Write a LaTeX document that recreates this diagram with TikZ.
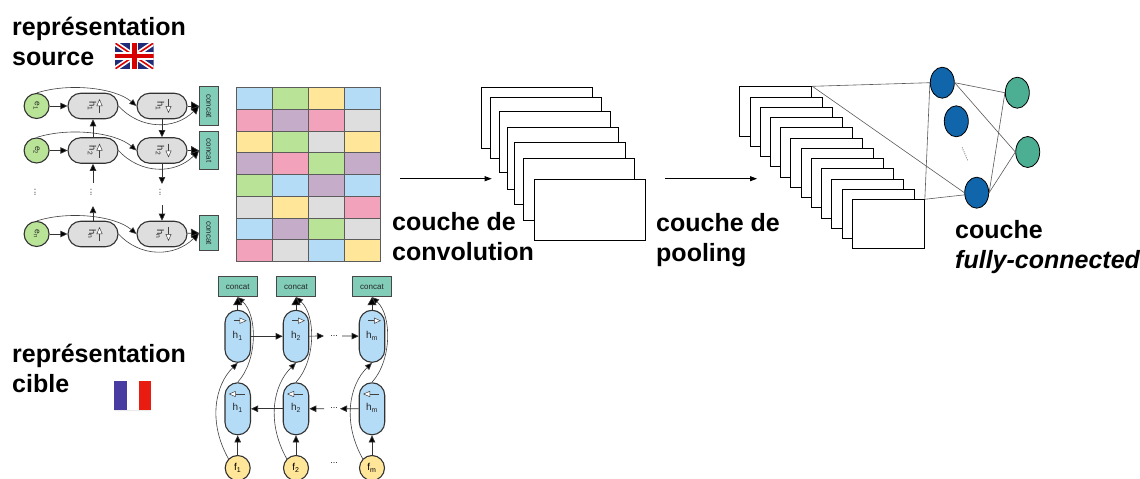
\documentclass[tikz,border=0pt]{standalone}
\usepackage{fontspec}
\setmainfont{Liberation Sans}
\usetikzlibrary{arrows.meta,shapes.geometric}
\definecolor{cblue}{HTML}{B5DCF6}
\definecolor{cgreen}{HTML}{B9E498}
\definecolor{cyellow}{HTML}{FFE699}
\definecolor{cpink}{HTML}{F2A3BB}
\definecolor{cpurple}{HTML}{C5ADC9}
\definecolor{cgray}{HTML}{DEDEDE}
\definecolor{cteal}{HTML}{82CDB8}
\definecolor{dkblue}{HTML}{1065AB}
\definecolor{dkteal}{HTML}{4CAE93}
\definecolor{edge}{HTML}{333333}
\definecolor{ukblue}{HTML}{202C78}
\definecolor{frblue}{HTML}{483CA0}
\definecolor{frred}{HTML}{E81C10}
\newcommand{\fsz}[1]{\fontsize{#1}{#1}\selectfont}
\tikzset{
  x=1pt,y=-1pt,
  bigtext/.style={anchor=base west,inner sep=0pt,font=\fsz{25}\bfseries},
  box/.style={draw=black,line width=1pt,fill=white,anchor=north west,inner sep=0pt,minimum width=#1},
  cell/.style={draw=edge!80,line width=.9pt,minimum width=36pt,minimum height=21.75pt,inner sep=0pt,anchor=north west},
  pillV/.style={draw=edge,line width=1.1pt,fill=#1,inner sep=0pt,minimum width=25.5pt,minimum height=52pt,rounded corners=12.7pt},
  pillH/.style={draw=edge,line width=1.1pt,fill=#1,inner sep=0pt,minimum width=50pt,minimum height=25.5pt,rounded corners=12.7pt},
  roundn/.style={draw=edge,line width=1.1pt,fill=#1,circle,inner sep=0pt,minimum size=25pt,font=\fsz{10}},
  concatbox/.style={draw=edge!90,line width=.9pt,fill=cteal,inner sep=0pt,font=\fsz{8},text=black!85},
  lab/.style={inner sep=0pt,font=\fsz{9.5},text=black!85},
  con/.style={draw=black!80,line width=.7pt,-{Triangle[length=7pt,width=6.5pt,fill=black]}},
  conbig/.style={draw=black!80,line width=.7pt,-{Triangle[length=8pt,width=9pt,fill=black]}},
  curvecon/.style={draw=black!75,line width=.6pt,-{Triangle[length=7pt,width=6pt,fill=black]}},
  plainline/.style={draw=black!65,line width=.6pt},
  icon/.style={draw=black!75,line width=.5pt,-{Triangle[open,fill=white,length=7pt,width=6pt]}},
  bigarrow/.style={draw=black,line width=.8pt,-{Triangle[length=7pt,width=5pt,fill=black]}},
  neuron/.style={draw=black,line width=.8pt,ellipse,minimum width=24pt,minimum height=31pt,inner sep=0pt,fill=#1},
  dotsn/.style={inner sep=0pt,font=\fsz{9},text=black!90},
}
\begin{document}
\begin{tikzpicture}
\clip (0,0) rectangle (1140,479);
% titles
\node[bigtext] (t1a) at (12,35) {représentation};
\node[bigtext] (t1b) at (12,65) {source};
\node[bigtext] (t2a) at (12,362) {représentation};
\node[bigtext] (t2b) at (12,392) {cible};
\node[bigtext] (t3a) at (392,230) {couche de};
\node[bigtext] (t3b) at (392,260) {convolution};
\node[bigtext] (t4a) at (656,231) {couche de};
\node[bigtext] (t4b) at (656,261) {pooling};
\node[bigtext] (t5a) at (955,238) {couche};
\node[bigtext,font=\fsz{25}\bfseries\itshape] (t5b) at (955,268) {fully-connected};
% UK flag
\begin{scope}
\clip[rounded corners=1pt] (115,43) rectangle (153.5,69);
\fill[fill=ukblue] (115,43) rectangle (153.5,69);
\draw[white,line width=5pt] (115,43) -- (153.5,69) (115,69) -- (153.5,43);
\draw[red!85!black,line width=1.6pt] (115,43) -- (153.5,69) (115,69) -- (153.5,43);
\draw[white,line width=8pt] (134.2,43) -- (134.2,69) (115,56) -- (153.5,56);
\draw[red!85!black,line width=4.6pt] (134.2,43) -- (134.2,69) (115,56) -- (153.5,56);
\end{scope}
% French flag
\fill[fill=black!8,rounded corners=1pt] (114,381) rectangle (151,411);
\fill[fill=frblue] (114,381) rectangle (126.5,410);
\fill[fill=white] (126.5,381) rectangle (139,410);
\fill[fill=frred] (139,381) rectangle (151,410);
% colour matrix
\foreach \colr [count=\i from 0] in {cblue,cgreen,cyellow,cblue,
  cpink,cpurple,cpink,cgray,
  cyellow,cgreen,cgray,cyellow,
  cpurple,cpink,cgreen,cpurple,
  cgreen,cblue,cpurple,cblue,
  cgray,cyellow,cgray,cpink,
  cblue,cpurple,cgreen,cgray,
  cpink,cgray,cblue,cyellow}{
  \pgfmathtruncatemacro{\cx}{mod(\i,4)}
  \pgfmathtruncatemacro{\cy}{div(\i,4)}
  \node[cell,fill=\colr] (m\i) at ({236+36*\cx},{87+21.75*\cy}) {};
}
% source encoder
\foreach \r/\y/\sub in {1/106/1,2/150.5/2,n/234/n}{
  \node[roundn=cgreen] (e\r) at (36.6,\y) {};
  \node[lab,font=\fsz{8.5},rotate=-90] (el\r) at (36.6,\y) {e\textsubscript{\sub}};
  \node[pillH=cgray] (hf\r) at (93,\y) {};
  \node[pillH=cgray] (hb\r) at (162,\y) {};
  \node[lab,rotate=-90] (hfl\r) at (92,\y) {h\textsubscript{\sub}};
  \node[lab,rotate=-90] (hbl\r) at (160,\y) {h\textsubscript{\sub}};
  \coordinate (ifa\r) at (99.5,\y+7);
  \coordinate (ifb\r) at (99.5,\y-7);
  \coordinate (iba\r) at (168.5,\y-7);
  \coordinate (ibb\r) at (168.5,\y+7);
  \draw[icon] (ifa\r) -- (ifb\r);
  \draw[icon] (iba\r) -- (ibb\r);
  \draw[con] (e\r) -- (hf\r);
  \draw[curvecon] (e\r.north) .. controls +(33,-10.5) and +(-21,-18) .. (hb\r.west);
}
\node[concatbox,minimum width=19pt,minimum height=38.5pt] (c1) at (209,106) {\rotatebox{-90}{concat}};
\node[concatbox,minimum width=19pt,minimum height=38.5pt] (c2) at (209,150.5) {\rotatebox{-90}{concat}};
\node[concatbox,minimum width=19pt,minimum height=34.5pt] (cn) at (209,233) {\rotatebox{-90}{concat}};
\foreach \r in {1,2,n}{
  \draw[conbig] (hb\r) -- (c\r.west);
  \draw[curvecon,-{Triangle[length=8pt,width=8pt,fill=black]}] (hf\r.east) .. controls +(22,24) and +(-24,24) .. (c\r.west);
}
\draw[con] (hf2) -- (hf1);
\draw[con] (hb1) -- (hb2);
\coordinate (ua) at (93,183);
\coordinate (ub) at (93,206);
\coordinate (da) at (162,184);
\coordinate (db) at (162,205);
\draw[con] (ua) -- (hf2.south);
\draw[con] (hfn.north) -- (ub);
\draw[con] (hb2.south) -- (da);
\draw[con] (db) -- (hbn.north);
\node[dotsn,rotate=-90] (vd1) at (35,192.7) {...};
\node[dotsn,rotate=-90] (vd2) at (91,192.7) {...};
\node[dotsn,rotate=-90] (vd3) at (160,192.7) {...};
% target encoder
\foreach \c/\x/\sub in {1/237.7/1,2/296/2,m/372/m}{
  \node[concatbox,minimum width=39pt,minimum height=20pt] (tc\c) at (\x,286.7) {concat};
  \node[pillV=cblue] (tf\c) at (\x,336.3) {};
  \node[pillV=cblue] (tb\c) at (\x,408.8) {};
  \node[roundn=cyellow] (f\c) at (\x,468) {f\textsubscript{\sub}};
  \node[lab,font=\fsz{10}] (tfl\c) at (\x,336) {h\textsubscript{\sub}};
  \node[lab,font=\fsz{10}] (tbl\c) at (\x,408) {h\textsubscript{\sub}};
  \coordinate (tia\c) at (\x-4,320.7);
  \coordinate (tib\c) at (\x+9,320.7);
  \coordinate (tja\c) at (\x+7,394);
  \coordinate (tjb\c) at (\x-9,394);
  \draw[icon] (tia\c) -- (tib\c);
  \draw[icon] (tja\c) -- (tjb\c);
  \draw[conbig] (tf\c) -- (tc\c);
  \draw[con] (f\c) -- (tb\c);
  \draw[curvecon] (f\c.north west) .. controls +(-20.7,-36.7) and +(-22.7,22) .. (tf\c.south);
  \draw[curvecon] (tb\c.north) .. controls +(20,-22) and +(20,18) .. (tc\c.south);
}
\draw[con] (tf1) -- (tf2);
\coordinate (ra) at (324,336);
\coordinate (rb) at (342,336);
\draw[con] (tf2) -- (ra);
\draw[con] (rb) -- (tfm);
\coordinate (la) at (340,408.7);
\coordinate (lb) at (324,408.7);
\draw[con] (tbm) -- (la);
\draw[con] (lb) -- (tb2);
\draw[con] (tb2) -- (tb1);
\node[dotsn] (hd1) at (334,336) {...};
\node[dotsn] (hd2) at (334,408) {...};
\node[dotsn] (hd3) at (334,463) {...};
% arrows between stages
\coordinate (a1s) at (400,178.7);
\coordinate (a1e) at (491.7,178.7);
\coordinate (a2s) at (665,178.7);
\coordinate (a2e) at (757,178.7);
\draw[bigarrow] (a1s) -- (a1e);
\draw[bigarrow] (a2s) -- (a2e);
% convolution stack
\foreach \i/\xa/\ya/\w/\h in {1/481.3/86.7/111/61.6,2/490/96.7/111/61.3,3/498.7/110.7/111/61.3,4/507/127.3/111/61.7,5/514/142.3/110.7/61.7,6/523.3/158.3/110.7/61.7,7/534.3/178.7/111/61.6}{
  \node[box=\w pt,minimum height=\h pt] (cv\i) at (\xa,\ya) {};
}
% pooling stack
\foreach \i in {1,...,12}{
  \node[box=72pt,minimum height=49.2pt] (pl\i) at ({739.3+10.23*(\i-1)},{86.3+10.27*(\i-1)}) {};
}
% fully connected
\node[neuron=dkblue] (n1) at (942.3,82.7) {};
\node[neuron=dkblue] (n2) at (956.3,121.3) {};
\node[neuron=dkblue] (n3) at (976.7,192.7) {};
\node[neuron=dkteal] (g1) at (1017.3,92.7) {};
\node[neuron=dkteal] (g2) at (1027.7,152) {};
\node[inner sep=0pt,font=\fsz{8},rotate=-67,text=black!80] (nd) at (965,154) {.......};
\draw[plainline] (pl1.north east) -- (n1.west);
\draw[plainline] (pl1.north east) -- (n3.west);
\draw[plainline] (pl12.north east) -- (n1.west);
\draw[plainline] (pl12.north east) -- (n3.190);
\draw[plainline] (n1.east) -- (g1.west);
\draw[plainline] (n1.east) -- (g2.west);
\draw[plainline] (n3.east) -- (g1.west);
\draw[plainline] (n3.east) -- (g2.west);
\end{tikzpicture}
\end{document}
